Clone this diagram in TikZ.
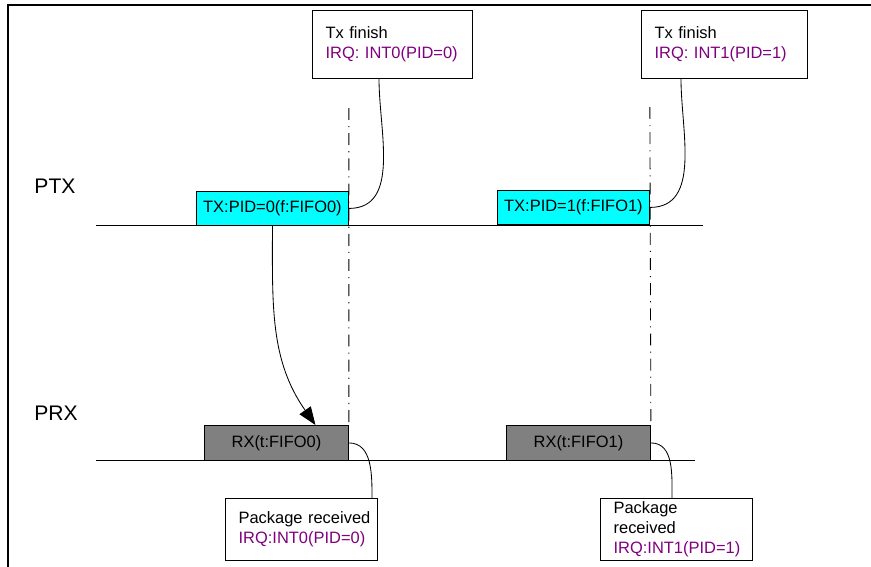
\documentclass[tikz,border=0pt]{standalone}
\usepackage{fontspec}
\setmainfont{Liberation Sans}
\usepackage{xcolor}
\definecolor{TxCyan}{RGB}{0,255,255}
\definecolor{RxGray}{RGB}{128,128,128}
\definecolor{IrqPurple}{RGB}{128,0,128}
\usetikzlibrary{arrows.meta,calc}
\newcommand{\irq}[1]{\textcolor{IrqPurple}{#1}}
\newcommand{\boxfont}{\fontsize{11.7}{14.2}\selectfont}
\tikzset{%
  frame line/.style={line width=1.4pt},
  lane line/.style={semithick, color=black},
  lane label/.style={font=\fontsize{15}{18}\selectfont},
  sync line/.style={semithick, dash pattern=on 8.5pt off 4.3pt on 0.8pt off 4.3pt},
  tx frame/.style={draw, semithick, fill=TxCyan, anchor=north west, inner sep=0pt,
    minimum width=3.8cm, minimum height=0.85cm, font=\boxfont},
  rx frame/.style={draw, semithick, fill=RxGray, anchor=north west, inner sep=0pt,
    minimum width=3.6cm, minimum height=0.875cm, font=\boxfont},
  note box/.style={draw, semithick, fill=white, anchor=north west, align=left,
    inner xsep=0.33cm, inner ysep=0pt, text width=#1, minimum height=1.7cm, font=\boxfont},
  data arrow/.style={semithick, -{Triangle[length=0.45cm,width=0.34cm]}}
}

\begin{document}
\begin{tikzpicture}[x=0.025cm,y=-0.025cm]
  \useasboundingbox (0,0) rectangle (871,567);
  \draw[frame line] (8,567) |- (871,5);
  \node[lane label] (ptx) at (55,186) {PTX};
  \node[lane label] (prx) at (56,413) {PRX};
  \coordinate (ptxa) at (96,225);
  \coordinate (ptxb) at (703,225);
  \coordinate (prxa) at (96,460);
  \coordinate (prxb) at (695,460);
  \draw[lane line] (ptxa) -- (ptxb);
  \draw[lane line] (prxa) -- (prxb);
  \foreach \p/\xt/\yt/\xr/\xf/\wf/\df/\xg/\dg/\pkg in {%
      0/196/191/204/312/3.34cm/67/225/147/{\mbox{Package received}},
      1/497/190/506/641/3.49cm/40/600/72/{Package\\received}} {
    \node[tx frame] (tx\p) at (\xt,\yt) {TX:PID=\p(f:FIFO\p)};
    \node[rx frame] (rx\p) at (\xr,425) {RX(t:FIFO\p)};
    \node[note box=\wf] (fin\p) at (\xf,10) {Tx finish\\\irq{IRQ: INT\p(PID=\p)}};
    \node[note box=3.14cm, minimum height=1.55cm] (pkg\p) at (\xg,498)
      {\pkg\\\irq{IRQ:INT\p(PID=\p)}};
    \coordinate (sync\p) at ($(tx\p.north east)+(0,-83)$);
    \draw[sync line] (sync\p) -- (rx\p.north east);
    \draw[lane line] (tx\p.east) to[out=0,in=-90] ($(fin\p.south west)+(\df,0)$);
    \draw[lane line] (rx\p.east) to[out=0,in=90] ($(pkg\p.north west)+(\dg,0)$);
  }
  \draw[data arrow] (tx0.south) to[out=-90,in=125] ($(rx0.north)+(39,0)$);
\end{tikzpicture}
\end{document}
